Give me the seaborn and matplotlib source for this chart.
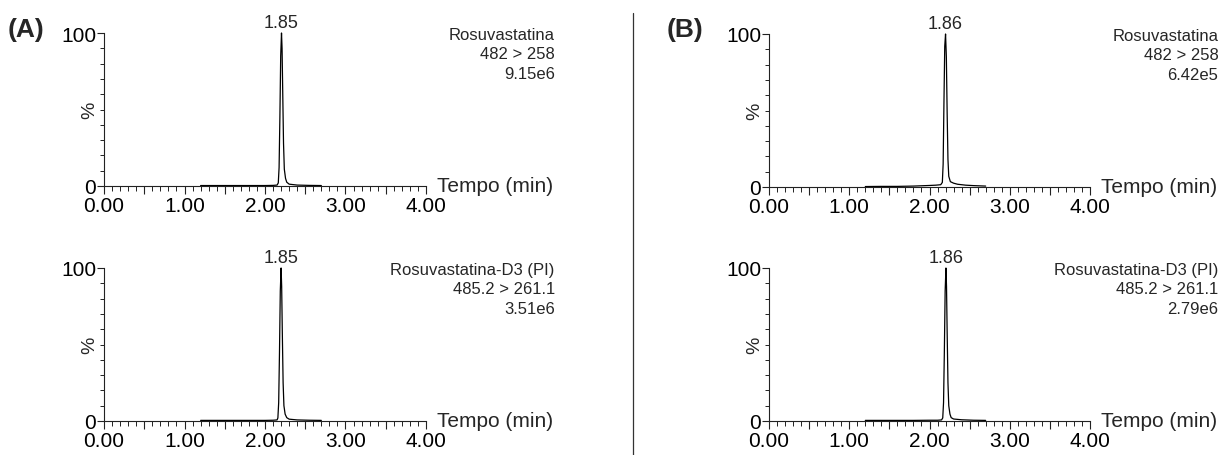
import numpy as np
import pandas as pd
import seaborn as sns
import matplotlib
matplotlib.use("Agg")
import matplotlib.pyplot as plt
from matplotlib.ticker import MultipleLocator, FuncFormatter
from matplotlib.lines import Line2D

# ---------------- data ----------------
# Panel A, top: Rosuvastatina 482 > 258
a_top_time = [1.20, 1.50, 1.80, 2.00, 2.10, 2.15, 2.165, 2.175, 2.185, 2.195, 2.205,
              2.212, 2.22, 2.23, 2.24, 2.255, 2.27, 2.30, 2.40, 2.55, 2.70]
a_top_int = [0.3, 0.3, 0.3, 0.3, 0.4, 0.6, 2.0, 12.0, 45.0, 85.0, 100.0,
             90.0, 62.0, 28.0, 11.0, 5.0, 2.5, 1.2, 0.6, 0.4, 0.3]

# Panel A, bottom: Rosuvastatina-D3 (PI) 485.2 > 261.1
a_bot_time = [1.20, 1.50, 1.80, 2.00, 2.10, 2.15, 2.16, 2.17, 2.18, 2.19, 2.20,
              2.207, 2.215, 2.225, 2.235, 2.25, 2.27, 2.30, 2.40, 2.55, 2.70]
a_bot_int = [0.4, 0.4, 0.4, 0.4, 0.5, 0.7, 2.0, 12.0, 45.0, 85.0, 100.0,
             88.0, 58.0, 25.0, 10.0, 4.5, 2.2, 1.2, 0.7, 0.5, 0.4]

# Panel B, top: Rosuvastatina 482 > 258
b_top_time = [1.20, 1.40, 1.60, 1.80, 1.90, 2.00, 2.08, 2.14, 2.16, 2.17, 2.18, 2.19,
              2.20, 2.21, 2.22, 2.23, 2.24, 2.26, 2.30, 2.35, 2.45, 2.55, 2.70]
b_top_int = [0.3, 0.4, 0.4, 0.6, 0.8, 1.0, 1.2, 1.5, 3.0, 15.0, 55.0, 92.0,
             100.0, 85.0, 48.0, 18.0, 7.0, 3.5, 2.5, 1.8, 1.2, 0.9, 0.6]

# Panel B, bottom: Rosuvastatina-D3 (PI) 485.2 > 261.1
b_bot_time = [1.20, 1.50, 1.80, 2.00, 2.10, 2.15, 2.165, 2.175, 2.185, 2.195, 2.205,
              2.212, 2.22, 2.23, 2.24, 2.255, 2.27, 2.30, 2.40, 2.55, 2.70]
b_bot_int = [0.4, 0.4, 0.4, 0.5, 0.5, 0.7, 2.0, 12.0, 45.0, 85.0, 100.0,
             88.0, 58.0, 25.0, 10.0, 4.5, 2.2, 1.3, 0.8, 0.5, 0.4]

peak_labels = ["1.85", "1.85", "1.86", "1.86"]
trace_titles = [
    "Rosuvastatina\n482 > 258\n9.15e6",
    "Rosuvastatina-D3 (PI)\n485.2 > 261.1\n3.51e6",
    "Rosuvastatina\n482 > 258\n6.42e5",
    "Rosuvastatina-D3 (PI)\n485.2 > 261.1\n2.79e6",
]
panel_labels = ["(A)", "(B)"]
x_label = "Tempo (min)"
y_label = "%"

# ---------------- style ----------------
sns.set_theme(style="ticks")
plt.rcParams["font.family"] = ["Liberation Sans", "DejaVu Sans"]
plt.rcParams["axes.edgecolor"] = "#222222"
plt.rcParams["xtick.color"] = "#222222"
plt.rcParams["ytick.color"] = "#222222"
plt.rcParams["xtick.labelcolor"] = "black"
plt.rcParams["ytick.labelcolor"] = "black"

W, H = 1223, 456
fig = plt.figure(figsize=(W / 100, H / 100), dpi=100)
fig.patch.set_facecolor("white")


def px_axes(x0, x1, ytop, ybot):
    return fig.add_axes([x0 / W, 1 - ybot / H, (x1 - x0) / W, (ybot - ytop) / H])


axes = [
    px_axes(104, 426, 34, 187),
    px_axes(104, 426, 269, 422),
    px_axes(769, 1090, 35, 188),
    px_axes(769, 1090, 269, 422),
]
traces = [
    (a_top_time, a_top_int),
    (a_bot_time, a_bot_int),
    (b_top_time, b_top_int),
    (b_bot_time, b_bot_int),
]

for ax, (t, inten), plabel, title in zip(axes, traces, peak_labels, trace_titles):
    df = pd.DataFrame({"t": t, "i": inten})
    sns.lineplot(data=df, x="t", y="i", ax=ax, color="black", linewidth=0.9,
                 estimator=None, sort=False)
    ax.lines[-1].set_clip_on(False)
    ax.set_xlim(0, 4)
    ax.set_ylim(0, 100)
    ax.set_xlabel("")
    ax.set_ylabel("")
    ax.set_facecolor("white")
    for s in ("top", "right"):
        ax.spines[s].set_visible(False)
    for s in ("left", "bottom"):
        ax.spines[s].set_linewidth(0.8)

    ax.xaxis.set_major_locator(MultipleLocator(0.5))
    ax.xaxis.set_minor_locator(MultipleLocator(0.1))
    ax.xaxis.set_major_formatter(
        FuncFormatter(lambda v, p: f"{v:.2f}" if abs(v - round(v)) < 1e-6 else ""))
    ax.set_yticks([0, 100])
    ax.set_yticklabels(["0", "100"])
    ax.yaxis.set_minor_locator(MultipleLocator(10))

    ax.tick_params(axis="x", which="major", direction="out", length=5.5, width=0.8,
                   pad=1.5, labelsize=15)
    ax.tick_params(axis="x", which="minor", direction="out", length=3.5, width=0.7)
    ax.tick_params(axis="y", which="major", direction="out", length=5, width=0.8,
                   pad=0.5, labelsize=15)
    ax.tick_params(axis="y", which="minor", direction="out", length=2.7, width=0.7)

    # peak label at the apex
    k = int(np.argmax(inten))
    ax.text(t[k], 101.5, plabel, ha="center", va="bottom", fontsize=13,
            clip_on=False)
    # y label
    ax.text(-0.045, 0.5, y_label, rotation=90, ha="center", va="center",
            fontsize=14, transform=ax.transAxes)
    # x label
    ax.text(1.034, 0.0, x_label, ha="left", va="center", fontsize=15,
            transform=ax.transAxes)
    # trace info
    ax.text(1.40, 1.04, title, ha="right", va="top", fontsize=12,
            linespacing=1.38, transform=ax.transAxes)

fig.text(8 / W, 1 - 30 / H, panel_labels[0], fontsize=19, fontweight="bold",
         ha="left", va="center")
fig.text(667 / W, 1 - 30 / H, panel_labels[1], fontsize=19, fontweight="bold",
         ha="left", va="center")

fig.add_artist(Line2D([633 / W, 633 / W], [0, 1 - 14 / H], transform=fig.transFigure,
                      color="#333333", linewidth=0.9))

fig.savefig("out.png", dpi=100, facecolor="white")
